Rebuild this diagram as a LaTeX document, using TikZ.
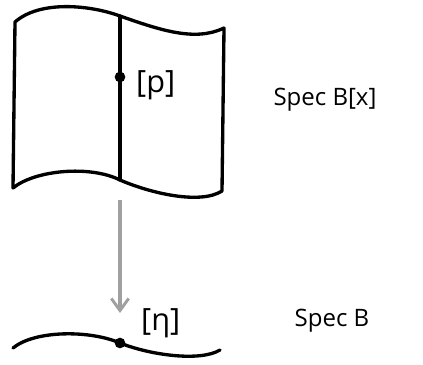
\documentclass[tikz,border=0pt]{standalone}
\usepackage{fontspec}
\setmainfont{Open Sans}
\usetikzlibrary{positioning,arrows.meta}

\tikzset{
  sheet/.style={line width=2.5pt, line cap=round, line join=round},
  pt/.style={circle, fill=black, inner sep=0pt, minimum size=8pt},
  lbl/.style={inner sep=0.75pt, font=\fontsize{18}{21}\selectfont},
  ptlbl/.style={inner sep=0.75pt, font=\fontsize{23}{26}\selectfont},
  mapto/.style={color={rgb, 255:red, 160; green, 160; blue, 160}, line width=2.4pt,
    -{Straight Barb[length=9pt, width=13pt, line width=2.2pt]}}
}

\begin{document}
\begin{tikzpicture}[x=0.75pt,y=0.75pt,yscale=-1,xscale=1]
\useasboundingbox (0,0) rectangle (423,364);

%Sheet over Spec B[x]
\draw [sheet] (15,22) .. controls (40,0) and (90,5) .. (120,16) .. controls (160,30) and (195,42) .. (224,28)
  -- (222,191) .. controls (200,205) and (150,193) .. (120,180) .. controls (90,165) and (35,170) .. (13,188) -- cycle ;
%Fibre line
\coordinate (ftop) at (120,16);
\coordinate (fbot) at (120,180);
\draw [sheet] (ftop) -- (fbot) ;

%Base curve
\draw [sheet] (13,348) .. controls (35,330) and (90,330) .. (120,343) .. controls (150,355) and (200,362) .. (220,350) ;

% Points
\node [pt] (p) at (120,77) {};
\node [pt] (eta) at (120,343) {};

% Text Node
\node [ptlbl, right=7pt of p, yshift=-6pt] (plbl) {[p]};
% Text Node
\node [ptlbl, above right=0pt and 12pt of eta] (etalbl) {[η]};
% Text Node
\node [lbl] (specbx) at (325,100) {Spec B[x]};
% Text Node
\node [lbl] (specb) at (332,321) {Spec B};

%Projection
\coordinate (src) at (120,200);
\coordinate (tgt) at (120,313);
\draw [mapto] (src) -- (tgt) ;
\end{tikzpicture}
\end{document}
